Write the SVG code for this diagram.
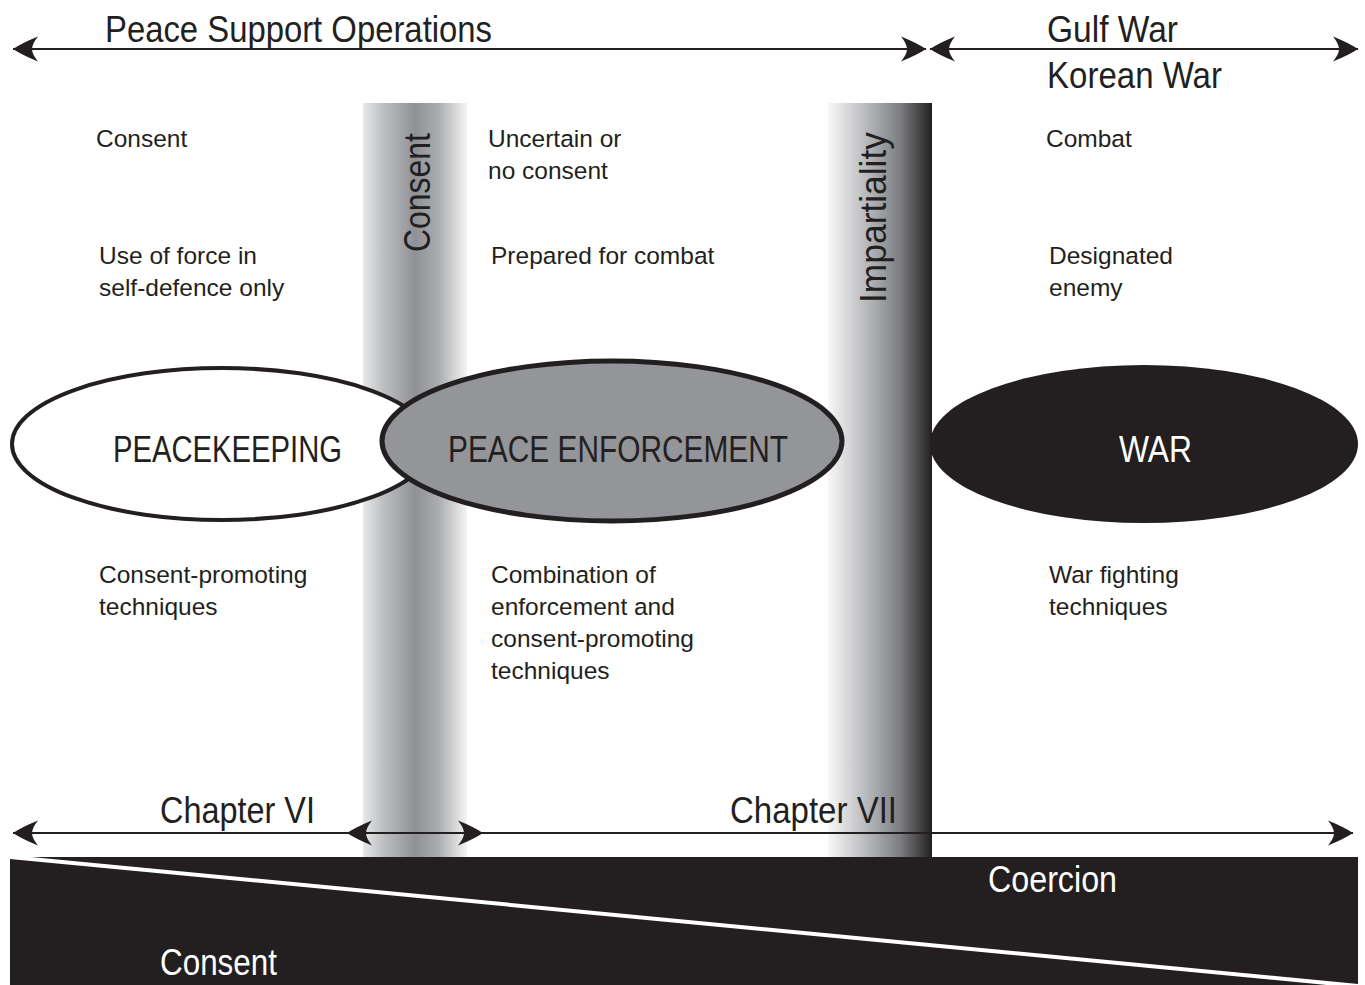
<svg xmlns="http://www.w3.org/2000/svg" width="1365" height="985" viewBox="0 0 1365 985">
<defs>
<style>
.big{font-family:"Liberation Sans",Arial,sans-serif;font-size:36px;fill:#231f20}
.small{font-family:"Liberation Sans",Arial,sans-serif;font-size:24.5px;fill:#231f20}
.wt{fill:#ffffff}
.conn{stroke:#231f20;stroke-width:2;fill:none;marker-start:url(#ah);marker-end:url(#ah)}
</style>
<marker id="ah" markerUnits="userSpaceOnUse" markerWidth="30" markerHeight="30" viewBox="-27 -15 30 30" refX="0" refY="0" orient="auto-start-reverse">
<path d="M0,0 Q-9,-6 -25,-12.5 Q-19,-5 -19,0 Q-19,5 -25,12.5 Q-9,6 0,0 Z" fill="#231f20"/>
</marker>
<linearGradient id="gConsent" x1="0" y1="0" x2="1" y2="0">
<stop offset="0" stop-color="#e6e7e8"/>
<stop offset="0.2" stop-color="#bcbec0"/>
<stop offset="0.5" stop-color="#8f9195"/>
<stop offset="0.72" stop-color="#a9abae"/>
<stop offset="1" stop-color="#f4f4f4"/>
</linearGradient>
<linearGradient id="gImp" x1="0" y1="0" x2="1" y2="0">
<stop offset="0" stop-color="#f7f7f7"/>
<stop offset="0.4" stop-color="#b3b4b7"/>
<stop offset="0.7" stop-color="#7b7c80"/>
<stop offset="1" stop-color="#231f20"/>
</linearGradient>
</defs>
<rect width="1365" height="985" fill="#ffffff"/>

<g id="bar-consent">
<rect x="363" y="103" width="104" height="754" fill="url(#gConsent)"/>
<text class="big" transform="translate(430,252) rotate(-90)" font-size="38" textLength="119" lengthAdjust="spacingAndGlyphs">Consent</text>
</g>
<g id="bar-impartiality">
<rect x="828" y="103" width="104" height="754" fill="url(#gImp)"/>
<text class="big" transform="translate(886,303) rotate(-90)" textLength="171" lengthAdjust="spacingAndGlyphs">Impartiality</text>
</g>

<g id="node-peacekeeping">
<ellipse cx="222" cy="444" rx="210" ry="76" fill="#ffffff" stroke="#231f20" stroke-width="4"/>
<text class="big" x="113" y="462" textLength="229" lengthAdjust="spacingAndGlyphs">PEACEKEEPING</text>
</g>
<g id="node-peace-enforcement">
<ellipse cx="612" cy="441" rx="230" ry="80" fill="#939598" stroke="#231f20" stroke-width="5"/>
<text class="big" x="448" y="462" textLength="340" lengthAdjust="spacingAndGlyphs">PEACE ENFORCEMENT</text>
</g>
<g id="node-war">
<ellipse cx="1144" cy="444" rx="214" ry="79" fill="#231f20"/>
<text class="big wt" x="1119" y="462" textLength="73" lengthAdjust="spacingAndGlyphs">WAR</text>
</g>

<g id="labels-top">
<text class="big" x="105" y="42" textLength="387" lengthAdjust="spacingAndGlyphs">Peace Support Operations</text>
<text class="big" x="1047" y="42" textLength="131" lengthAdjust="spacingAndGlyphs">Gulf War</text>
<text class="big" x="1047" y="88" textLength="175" lengthAdjust="spacingAndGlyphs">Korean War</text>
</g>

<g id="col-peacekeeping">
<text class="small" x="96" y="147">Consent</text>
<text class="small" x="99" y="264">Use of force in</text>
<text class="small" x="99" y="296">self-defence only</text>
<text class="small" x="99" y="583">Consent-promoting</text>
<text class="small" x="99" y="615">techniques</text>
</g>
<g id="col-enforcement">
<text class="small" x="488" y="147">Uncertain or</text>
<text class="small" x="488" y="179">no consent</text>
<text class="small" x="491" y="264">Prepared for combat</text>
<text class="small" x="491" y="583">Combination of</text>
<text class="small" x="491" y="615">enforcement and</text>
<text class="small" x="491" y="647">consent-promoting</text>
<text class="small" x="491" y="679">techniques</text>
</g>
<g id="col-war">
<text class="small" x="1046" y="147">Combat</text>
<text class="small" x="1049" y="264">Designated</text>
<text class="small" x="1049" y="296">enemy</text>
<text class="small" x="1049" y="583">War fighting</text>
<text class="small" x="1049" y="615">techniques</text>
</g>

<g id="labels-chapter">
<text class="big" x="160" y="823" textLength="155" lengthAdjust="spacingAndGlyphs">Chapter VI</text>
<text class="big" x="730" y="823" textLength="167" lengthAdjust="spacingAndGlyphs">Chapter VII</text>
</g>

<g id="connectors">
<line class="conn" x1="13" y1="49" x2="926" y2="49"/>
<line class="conn" x1="930" y1="49" x2="1358" y2="49"/>
<line class="conn" x1="13" y1="833" x2="483" y2="833"/>
<line class="conn" x1="347" y1="833" x2="1353" y2="833"/>
</g>

<g id="band">
<rect x="10" y="857" width="1348" height="128" fill="#231f20"/>
<line x1="10" y1="857" x2="1358" y2="986" stroke="#ffffff" stroke-width="4"/>
<text class="big wt" x="988" y="892" textLength="129" lengthAdjust="spacingAndGlyphs">Coercion</text>
<text class="big wt" x="160" y="975" textLength="117" lengthAdjust="spacingAndGlyphs">Consent</text>
</g>
</svg>
